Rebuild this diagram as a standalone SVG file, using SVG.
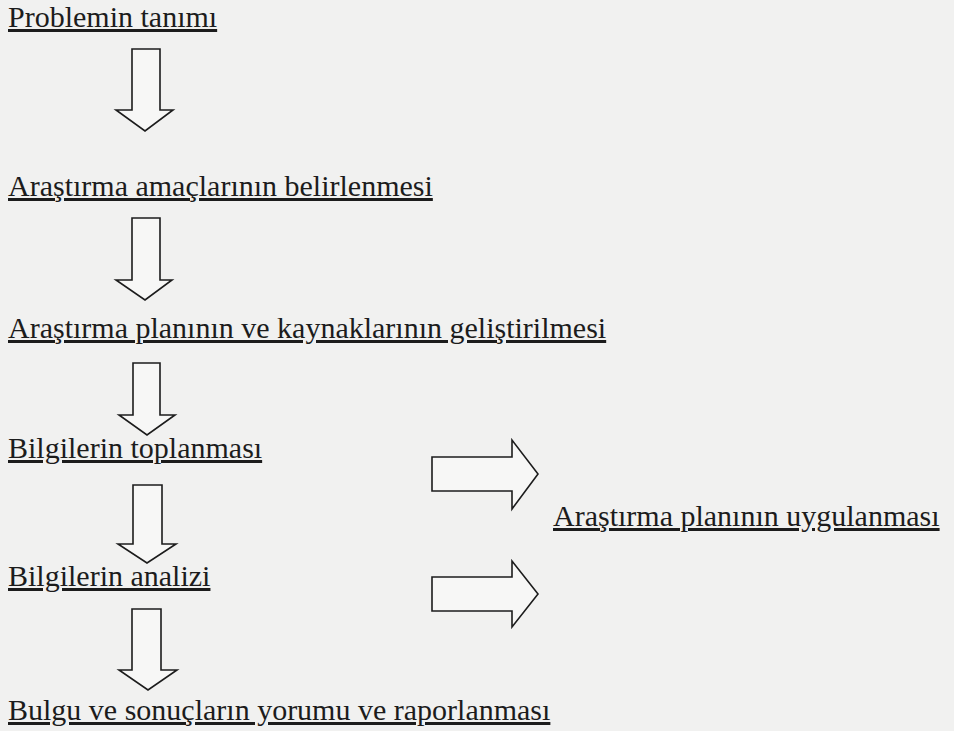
<svg xmlns="http://www.w3.org/2000/svg" width="954" height="731" viewBox="0 0 954 731">
<style>
.t{font-family:"Liberation Serif","Times New Roman",serif;font-size:30px;fill:#1c1c1c;text-decoration:underline;}
.a{fill:#f7f7f6;stroke:#1c1c1c;stroke-width:1.6;stroke-linejoin:miter;}
</style>
<rect width="954" height="731" fill="#f1f1f0"/>
<g id="n1"><text class="t" x="8" y="27">Problemin tanımı</text></g>
<g id="n2"><text class="t" x="8" y="196">Araştırma amaçlarının belirlenmesi</text></g>
<g id="n3"><text class="t" x="8" y="338">Araştırma planının ve kaynaklarının geliştirilmesi</text></g>
<g id="n4"><text class="t" x="8" y="458">Bilgilerin toplanması</text></g>
<g id="n5"><text class="t" x="8" y="586">Bilgilerin analizi</text></g>
<g id="n6"><text class="t" x="8" y="720">Bulgu ve sonuçların yorumu ve raporlanması</text></g>
<g id="n7"><text class="t" x="553" y="526">Araştırma planının uygulanması</text></g>
<g id="connectors">
<path class="a" d="M132,49 H160 V110 H173 L145,131 L116,110 H132 Z"/>
<path class="a" d="M132,218 H160 V280 H172 L145,300 L116,280 H132 Z"/>
<path class="a" d="M133,363 H160 V415 H175 L147,435 L119,415 H133 Z"/>
<path class="a" d="M133,485 H162 V544 H176 L147,563 L118,544 H133 Z"/>
<path class="a" d="M132,609 H161 V670 H177 L148,690 L119,670 H132 Z"/>
<path class="a" d="M432,457 H512 V440 L538,474 L512,509 V491 H432 Z"/>
<path class="a" d="M432,577 H512 V561 L538,594 L512,627 V611 H432 Z"/>
</g>
</svg>
